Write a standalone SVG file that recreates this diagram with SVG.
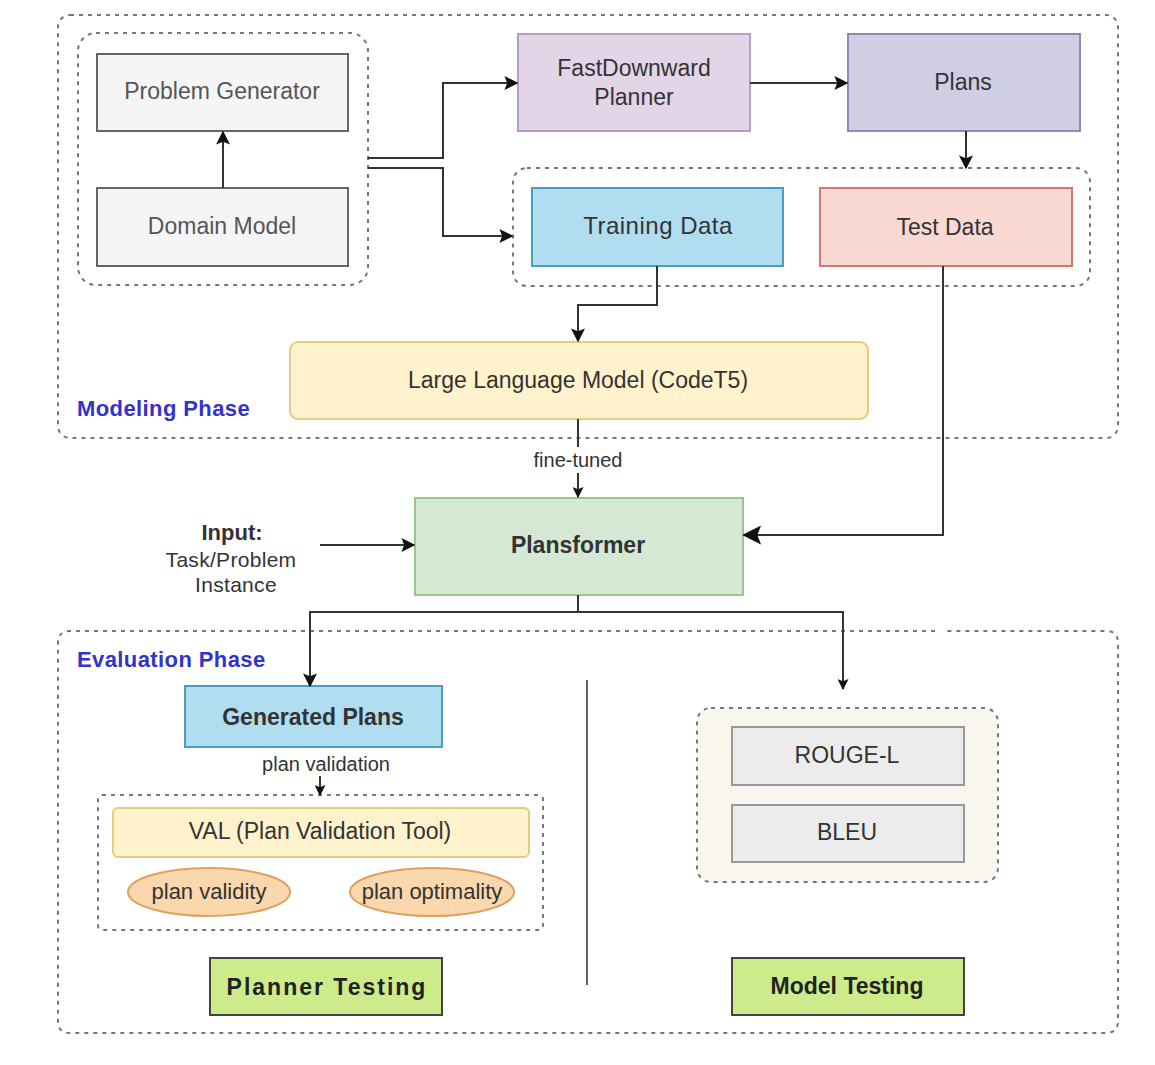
<svg xmlns="http://www.w3.org/2000/svg" width="1155" height="1065" viewBox="0 0 1155 1065">
<style>
text{font-family:"Liberation Sans",Arial,sans-serif;fill:#333;text-anchor:middle;dominant-baseline:central}
.b{font-size:23px}
.s{font-size:20px}
.bold{font-weight:bold}
.phase{font-size:22px;font-weight:bold;fill:#3333cc;text-anchor:start;letter-spacing:0.4px}
.dash{fill:none;stroke:#777;stroke-width:2;stroke-dasharray:4 5}
.edge{fill:none;stroke:#333;stroke-width:2}
</style>
<defs>
<marker id="ah" viewBox="0 0 10 10" refX="9" refY="5" markerWidth="11" markerHeight="11" orient="auto" markerUnits="userSpaceOnUse">
<path d="M0,0 L10,5 L0,10 L2,5 z" fill="#111"/>
</marker>
<marker id="ahs" viewBox="0 0 10 10" refX="9" refY="5" markerWidth="14" markerHeight="14" orient="auto" markerUnits="userSpaceOnUse">
<path d="M0,0 L10,5 L0,10 L2,5 z" fill="#111"/>
</marker>
<marker id="ahl" viewBox="0 0 10 10" refX="9" refY="5" markerWidth="19" markerHeight="19" orient="auto" markerUnits="userSpaceOnUse">
<path d="M0,0 L10,5 L0,10 L2,5 z" fill="#111"/>
</marker>
</defs>
<rect width="1155" height="1065" fill="#fff"/>

<g id="modeling-phase">
<rect class="dash" x="58" y="15" width="1060" height="423" rx="12"/>
<text class="phase" x="77" y="408">Modeling Phase</text>
</g>
<g id="evaluation-phase">
<path class="dash" d="M935,631 H70 Q58,631 58,643 V1021 Q58,1033 70,1033 H1106 Q1118,1033 1118,1021 V643 Q1118,631 1106,631 H946"/>
<text class="phase" x="77" y="659">Evaluation Phase</text>
</g>

<g id="generator-group"><rect class="dash" x="78" y="33" width="290" height="252" rx="18"/></g>
<g id="data-group"><rect class="dash" x="513" y="168" width="577" height="118" rx="14"/></g>
<g id="val-group"><rect class="dash" x="98" y="795" width="445" height="135" rx="4"/></g>
<g id="metrics-group"><rect x="697" y="708" width="301" height="174" rx="14" fill="#f9f7ed" stroke="#777" stroke-width="2" stroke-dasharray="4 5"/></g>

<g id="problem-generator"><rect x="97" y="54" width="251" height="77" fill="#f5f5f5" stroke="#666" stroke-width="2"/><text class="b" x="222" y="91" style="fill:#555">Problem Generator</text></g>
<g id="domain-model"><rect x="97" y="188" width="251" height="78" fill="#f5f5f5" stroke="#666" stroke-width="2"/><text class="b" x="222" y="226" style="fill:#555">Domain Model</text></g>
<g id="fastdownward"><rect x="518" y="34" width="232" height="97" fill="#e1d5e7" stroke="#b89cc4" stroke-width="2"/><text class="b" x="634" y="68">FastDownward</text><text class="b" x="634" y="97">Planner</text></g>
<g id="plans"><rect x="848" y="34" width="232" height="97" fill="#d0cee2" stroke="#8f8ab3" stroke-width="2"/><text class="b" x="963" y="82">Plans</text></g>
<g id="training-data"><rect x="532" y="188" width="251" height="78" fill="#b1ddf0" stroke="#4a9cc0" stroke-width="2"/><text class="b" x="658" y="225" style="font-size:24px;letter-spacing:0.5px">Training Data</text></g>
<g id="test-data"><rect x="820" y="188" width="252" height="78" fill="#fad9d5" stroke="#cd7b70" stroke-width="2"/><text class="b" x="945" y="227">Test Data</text></g>
<g id="llm"><rect x="290" y="342" width="578" height="77" rx="8" fill="#fff2cc" stroke="#e6cc80" stroke-width="2"/><text class="b" x="578" y="380">Large Language Model (CodeT5)</text></g>
<g id="plansformer"><rect x="415" y="498" width="328" height="97" fill="#d5e8d4" stroke="#9cc48f" stroke-width="2"/><text class="b bold" x="578" y="545">Plansformer</text></g>
<g id="input"><text class="b bold" x="232" y="532" style="font-size:22px">Input:</text><text x="231" y="559" style="font-size:21px;letter-spacing:0.3px">Task/Problem</text><text x="236" y="584" style="font-size:21px;letter-spacing:0.3px">Instance</text></g>
<g id="generated-plans"><rect x="185" y="686" width="257" height="61" fill="#b1ddf0" stroke="#4a9cc0" stroke-width="2"/><text class="b bold" x="313" y="717">Generated Plans</text></g>
<g id="val"><rect x="113" y="808" width="416" height="49" rx="5" fill="#fff2cc" stroke="#e6cc80" stroke-width="2"/><text class="b" x="320" y="831">VAL (Plan Validation Tool)</text></g>
<g id="plan-validity"><ellipse cx="209" cy="892" rx="81" ry="24" fill="#fad7ac" stroke="#e0a060" stroke-width="2"/><text x="209" y="891" style="font-size:22px">plan validity</text></g>
<g id="plan-optimality"><ellipse cx="432" cy="892" rx="82" ry="24" fill="#fad7ac" stroke="#e0a060" stroke-width="2"/><text x="432" y="891" style="font-size:22px">plan optimality</text></g>
<g id="planner-testing"><rect x="210" y="958" width="232" height="57" fill="#cdeb8b" stroke="#444" stroke-width="2"/><text class="b bold" x="327" y="987" style="fill:#222;letter-spacing:2px">Planner Testing</text></g>
<g id="rouge-l"><rect x="732" y="727" width="232" height="58" fill="#ececec" stroke="#999" stroke-width="2"/><text class="b" x="847" y="755">ROUGE-L</text></g>
<g id="bleu"><rect x="732" y="805" width="232" height="57" fill="#ececec" stroke="#999" stroke-width="2"/><text class="b" x="847" y="832">BLEU</text></g>
<g id="model-testing"><rect x="732" y="958" width="232" height="57" fill="#cdeb8b" stroke="#444" stroke-width="2"/><text class="b bold" x="847" y="986" style="fill:#222">Model Testing</text></g>
<g id="separator"><line x1="587" y1="680" x2="587" y2="985" stroke="#666" stroke-width="2"/></g>

<g id="connectors">
<path class="edge" d="M223,188 V132" marker-end="url(#ahs)"/>
<path class="edge" d="M368,158 H443 V83 H517" marker-end="url(#ahs)"/>
<path class="edge" d="M368,168 H443 V236 H512" marker-end="url(#ahs)"/>
<path class="edge" d="M750,83 H847" marker-end="url(#ahs)"/>
<path class="edge" d="M966,131 V168" marker-end="url(#ahs)"/>
<path class="edge" d="M657,266 V305 H578 V341" marker-end="url(#ahs)"/>
<path class="edge" d="M578,419 V447 M578,473 V497" marker-end="url(#ah)"/>
<text class="s" x="578" y="460">fine-tuned</text>
<path class="edge" d="M943,266 V535 H744" marker-end="url(#ahl)"/>
<path class="edge" d="M320,545 H414" marker-end="url(#ahs)"/>
<path class="edge" d="M578,595 V612 H310 V686" marker-end="url(#ahs)"/>
<path class="edge" d="M578,612 H843 V689" marker-end="url(#ah)"/>
<path class="edge" d="M320,776 V795" marker-end="url(#ah)"/>
<text class="s" x="326" y="764">plan validation</text>
</g>
</svg>
